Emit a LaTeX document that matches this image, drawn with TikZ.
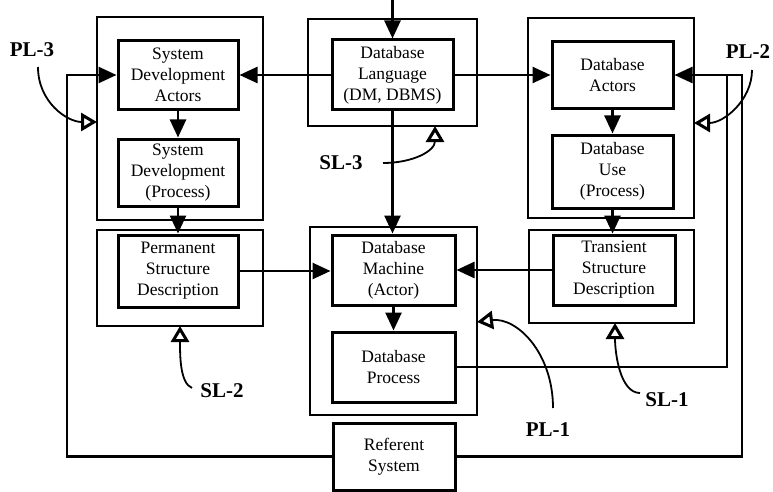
\documentclass[tikz,border=0pt]{standalone}
\usepackage{fontspec}
\setmainfont{Liberation Serif}
\usepackage{tikz}
\usetikzlibrary{arrows.meta, calc}
\newcommand{\boxfont}{\fontsize{17.5}{21}\selectfont}
\newcommand{\lvlfont}{\fontsize{21}{22}\selectfont\bfseries}
\tikzset{
    unit/.style={draw, line width=3pt, align=center, inner sep=0pt, font=\boxfont},
    frame/.style={draw, line width=2.6pt, inner sep=0pt},
    flow/.style={line width=2.6pt, -{Triangle[length=18pt, width=16pt]}},
    link/.style={line width=2.6pt},
    lvl/.style={font=\lvlfont},
    pointer/.style={line width=1.8pt, -{Triangle[open, length=16pt, width=18pt, line width=3pt]}}
}

\begin{document}
\begin{tikzpicture}[x=1pt, y=-1pt]
    \useasboundingbox (0,0) rectangle (773,492);

    % Group frames
    \node[frame, minimum width=166pt, minimum height=203pt] (sdgrp) at (180,118.5) {};
    \node[frame, minimum width=166pt, minimum height=96pt]  (pmgrp) at (180,278) {};
    \node[frame, minimum width=169pt, minimum height=107pt] (dlgrp) at (392.5,72.5) {};
    \node[frame, minimum width=167pt, minimum height=188pt] (dmgrp) at (393.5,321) {};
    \node[frame, minimum width=166pt, minimum height=200pt] (dagrp) at (611,118) {};
    \node[frame, minimum width=165pt, minimum height=93pt]  (tsgrp) at (611.5,276.5) {};

    % Units
    \node[unit, minimum width=120pt, minimum height=69pt] (sda) at (178,75) {System\\Development\\Actors};
    \node[unit, minimum width=120pt, minimum height=67pt] (sdp) at (178,172.5) {System\\Development\\(Process)};
    \node[unit, minimum width=120pt, minimum height=72pt] (psd) at (178,271) {Permanent\\Structure\\Description};
    \node[unit, minimum width=121pt, minimum height=70pt] (dbl) at (392.5,75) {Database\\Language\\(DM, DBMS)};
    \node[unit, minimum width=123pt, minimum height=70pt] (dbm) at (393.5,270) {Database\\Machine\\(Actor)};
    \node[unit, minimum width=123pt, minimum height=70pt] (dbp) at (393.5,367) {Database\\Process};
    \node[unit, minimum width=122pt, minimum height=67pt] (ref) at (394,456.5) {Referent\\System};
    \node[unit, minimum width=121pt, minimum height=67pt] (dba) at (612.5,75) {Database\\Actors};
    \node[unit, minimum width=121pt, minimum height=73pt] (dbu) at (612.5,171.5) {Database\\Use\\(Process)};
    \node[unit, minimum width=122pt, minimum height=70pt] (tsd) at (614,270) {Transient\\Structure\\Description};

    % Flows
    \coordinate (in) at (392.5,0);
    \draw[flow] (in) -- (dbl.north);
    \draw[flow] (dbl.west) -- (dbl.west -| sda.east);
    \draw[flow] (dbl.east) -- (dbl.east -| dba.west);
    \draw[flow] (dbl.south) -- (dbl.south |- dbm.north);
    \draw[flow] (sda.south) -- (sdp.north);
    \draw[flow] (sdp.south) -- (psd.north);
    \draw[flow] (dba.south) -- (dbu.north);
    \draw[flow] (dbu.south) -- (dbu.south |- tsd.north);
    \draw[flow] (dbm.south) -- (dbp.north);
    \draw[flow] (psd.east) -- (psd.east -| dbm.west);
    \draw[flow] (tsd.west) -- (tsd.west -| dbm.east);

    % Feedback loops
    \coordinate (lft) at (67,75);
    \coordinate (rgt) at (742,75);
    \coordinate (mid) at (727,75);
    \draw[flow] (ref.west) -| (lft) -- (sda.west);
    \draw[flow] (ref.east) -| (rgt) -- (dba.east);
    \draw[link] (dbp.east) -| (mid);

    % Level labels
    \node[lvl] (pl3) at (32,50) {PL-3};
    \node[lvl] (pl2) at (748,52) {PL-2};
    \node[lvl] (pl1) at (548,430) {PL-1};
    \node[lvl] (sl1) at (667,400) {SL-1};
    \node[lvl] (sl2) at (222,391) {SL-2};
    \node[lvl] (sl3) at (341,163) {SL-3};
    \coordinate (pl3s) at (38,67);
    \coordinate (pl2s) at (752,70);
    \coordinate (pl1s) at (553,408);
    \coordinate (sl1s) at (640,393);
    \coordinate (sl2s) at (192,388);
    \coordinate (sl3s) at (383,163);
    \coordinate (pl3e) at (97,122);
    \coordinate (pl2e) at (694,123);
    \coordinate (pl1e) at (477,322);
    \coordinate (sl1e) at (615,323);
    \coordinate (sl2e) at (180,326);
    \coordinate (sl3e) at (435,126);
    \draw[pointer] (pl3s) .. controls +(0,35) and +(-30,0) .. (pl3e);
    \draw[pointer] (pl2s) .. controls +(0,30) and +(30,0) .. (pl2e);
    \draw[pointer] (pl1s) .. controls +(0,-55) and +(40,-5) .. (pl1e);
    \draw[pointer] (sl1s) .. controls +(-20,0) and +(0,30) .. (sl1e);
    \draw[pointer] (sl2s) .. controls +(-12,-5) and +(0,30) .. (sl2e);
    \draw[pointer] (sl3s) .. controls +(30,0) and +(0,25) .. (sl3e);
\end{tikzpicture}
\end{document}
